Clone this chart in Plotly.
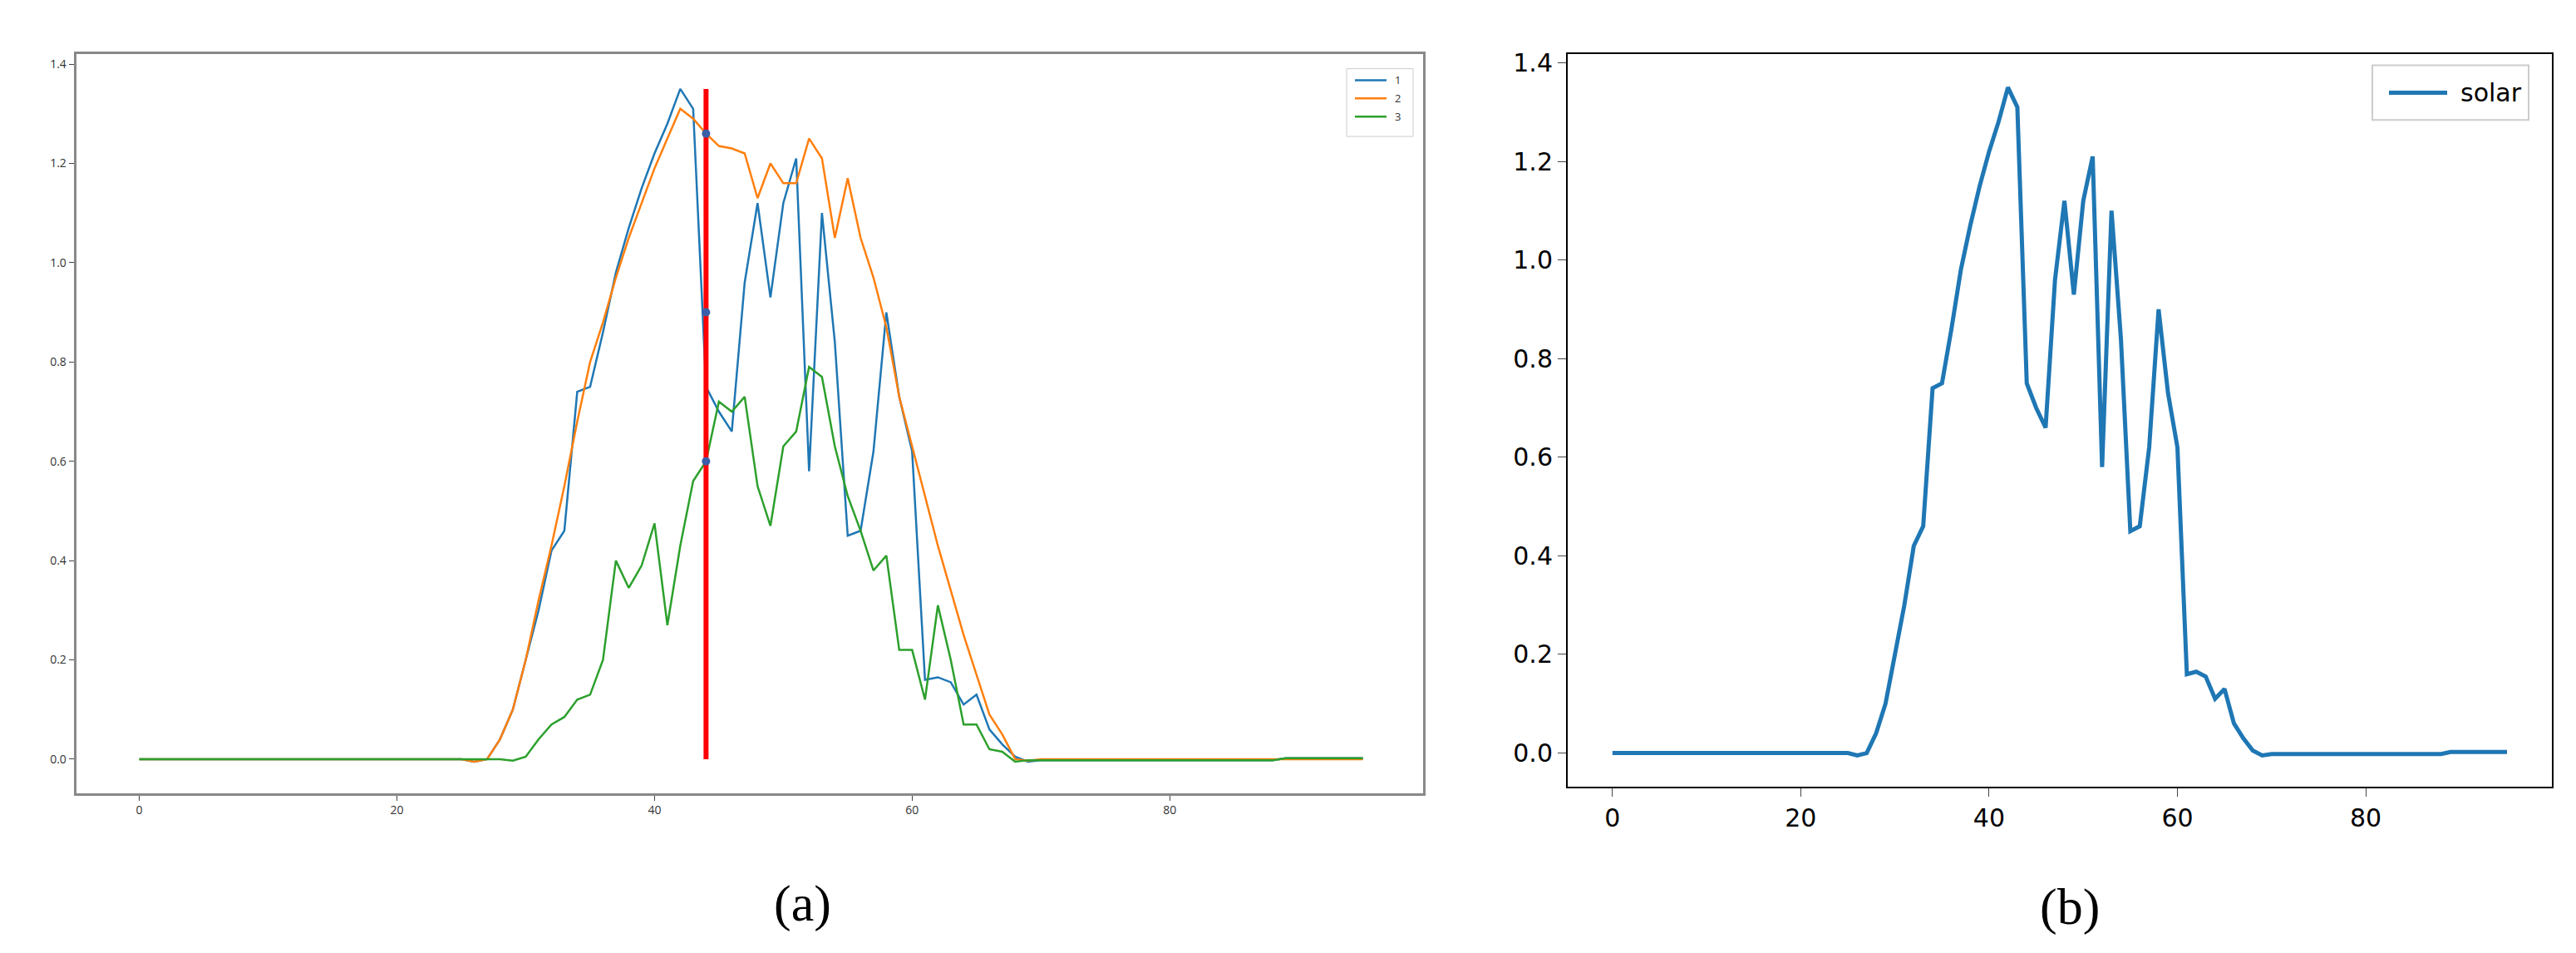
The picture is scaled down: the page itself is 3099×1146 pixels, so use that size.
import plotly.graph_objects as go

x = list(range(96))
s1 = [0.0]*26 + [-0.005, 0.0, 0.04, 0.1, 0.2, 0.3, 0.42, 0.46, 0.74, 0.75, 0.86, 0.98, 1.07, 1.15, 1.22, 1.28,
      1.35, 1.31, 0.75, 0.7, 0.66, 0.96, 1.12, 0.93, 1.12, 1.21, 0.58, 1.10, 0.84, 0.45, 0.46, 0.62, 0.9, 0.73,
      0.62, 0.16, 0.165, 0.155, 0.11, 0.13, 0.06, 0.03, 0.005, -0.005] + [-0.002]*19 + [0.002]*7
s2 = [0.0]*26 + [-0.005, 0.0, 0.04, 0.1, 0.2, 0.32, 0.43, 0.55, 0.68, 0.8, 0.88, 0.97, 1.05, 1.12, 1.19, 1.25,
      1.31, 1.29, 1.26, 1.235, 1.23, 1.22, 1.13, 1.2, 1.16, 1.16, 1.25, 1.21, 1.05, 1.17, 1.05, 0.97, 0.87, 0.73,
      0.63, 0.53, 0.43, 0.34, 0.25, 0.17, 0.09, 0.05, 0.0, -0.003] + [0.0]*26
s3 = [0.0]*29 + [-0.003, 0.005, 0.04, 0.07, 0.085, 0.12, 0.13, 0.2, 0.4, 0.345, 0.39, 0.475, 0.27, 0.43, 0.56,
      0.6, 0.72, 0.7, 0.73, 0.55, 0.47, 0.63, 0.66, 0.79, 0.77, 0.63, 0.53, 0.46, 0.38, 0.41, 0.22, 0.22, 0.12,
      0.31, 0.2, 0.07, 0.07, 0.02, 0.015, -0.005] + [-0.002]*20 + [0.002]*7
cut_x = 44
cut_pts = [1.26, 0.9, 0.6]

blue, orange, green = "#1f77b4", "#ff7f0e", "#2ca02c"
fig = go.Figure()
fig.add_trace(go.Scatter(x=x, y=s1, mode="lines", name="1", line=dict(color=blue, width=2.5), xaxis="x", yaxis="y"))
fig.add_trace(go.Scatter(x=x, y=s2, mode="lines", name="2", line=dict(color=orange, width=2.5), xaxis="x", yaxis="y"))
fig.add_trace(go.Scatter(x=x, y=s3, mode="lines", name="3", line=dict(color=green, width=2.5), xaxis="x", yaxis="y"))
fig.add_trace(go.Scatter(x=[cut_x, cut_x], y=[0, 1.35], mode="lines", line=dict(color="red", width=6),
                         showlegend=False, xaxis="x", yaxis="y"))
fig.add_trace(go.Scatter(x=[cut_x]*3, y=cut_pts, mode="markers", marker=dict(color="#3a5fa8", size=10),
                         showlegend=False, xaxis="x", yaxis="y"))
fig.add_trace(go.Scatter(x=x, y=s1, mode="lines", name="solar", line=dict(color=blue, width=5),
                         showlegend=False, xaxis="x2", yaxis="y2"))

ax = dict(showgrid=False, zeroline=False, ticks="outside", mirror=True, showline=True)
fig.update_layout(
    width=3099, height=1146, margin=dict(l=0, r=0, t=0, b=0), plot_bgcolor="white", paper_bgcolor="white",
    showlegend=False,
    xaxis=dict(domain=[0.027, 0.550], range=[-4.9, 99.7], tickvals=[0, 20, 40, 60, 80], linecolor="#888",
               linewidth=3, tickfont=dict(size=14, color="#333"), ticklen=6, anchor="y", **ax),
    yaxis=dict(domain=[0.176, 0.956], range=[-0.068, 1.42], tickvals=[0, .2, .4, .6, .8, 1.0, 1.2, 1.4],
               tickformat=".1f", linecolor="#888", linewidth=3, tickfont=dict(size=14, color="#333"), ticklen=6,
               anchor="x", **ax),
    xaxis2=dict(domain=[0.606, 0.988], range=[-4.75, 99.75], tickvals=[0, 20, 40, 60, 80], linecolor="black",
                linewidth=2, tickfont=dict(size=30, color="black", family="DejaVu Sans"), ticklen=10, anchor="y2", **ax),
    yaxis2=dict(domain=[0.183, 0.956], range=[-0.0675, 1.4175], tickvals=[0, .2, .4, .6, .8, 1.0, 1.2, 1.4],
                tickformat=".1f", linecolor="black", linewidth=2, tickfont=dict(size=30, color="black", family="DejaVu Sans"),
                ticklen=10, anchor="x2", **ax),
)
fig.add_shape(type="rect", xref="paper", yref="paper", x0=1612/3099, x1=1692/3099, y0=1-150/1146, y1=1-68/1146,
              line=dict(color="#ccc", width=1), fillcolor="white")
for i, (lab, c) in enumerate([("1", blue), ("2", orange), ("3", green)]):
    yy = 1 - (82 + i * 22) / 1146
    fig.add_shape(type="line", xref="paper", yref="paper", x0=1622/3099, x1=1660/3099, y0=yy, y1=yy,
                  line=dict(color=c, width=2.5))
    fig.add_annotation(xref="paper", yref="paper", x=1668/3099, y=yy, text=lab, showarrow=False,
                       xanchor="left", yanchor="middle", font=dict(size=13, color="#333"))
fig.add_shape(type="rect", xref="paper", yref="paper", x0=2846/3099, x1=3034/3099, y0=1-130/1146, y1=1-64/1146,
              line=dict(color="#ccc", width=2), fillcolor="white")
fig.add_shape(type="line", xref="paper", yref="paper", x0=2866/3099, x1=2936/3099, y0=1-97/1146, y1=1-97/1146,
              line=dict(color=blue, width=5))
fig.add_annotation(xref="paper", yref="paper", x=2950/3099, y=1-97/1146, text="solar", showarrow=False,
                   xanchor="left", yanchor="middle", yshift=0, font=dict(size=30, color="black", family="DejaVu Sans"))
fig.add_annotation(xref="paper", yref="paper", x=921/3099, y=1-1078/1146, text="(a)", showarrow=False,
                   yanchor="middle", font=dict(size=62, color="black", family="Liberation Serif"))
fig.add_annotation(xref="paper", yref="paper", x=2520/3099, y=1-1082/1146, text="(b)", showarrow=False,
                   yanchor="middle", font=dict(size=62, color="black", family="Liberation Serif"))
fig.write_html("out.html")
